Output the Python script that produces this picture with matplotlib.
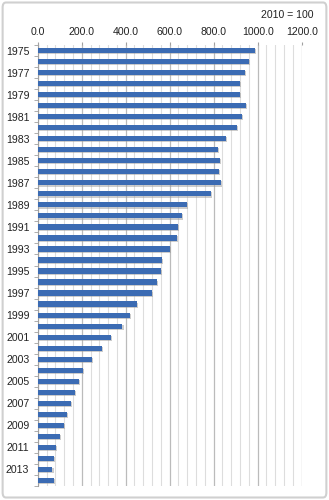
import matplotlib.pyplot as plt
import matplotlib.patheffects as pe
from matplotlib.patches import FancyBboxPatch
import numpy as np

years = list(range(1975, 2015))
values = [988, 962, 942, 920, 920, 947, 929, 905, 856, 821,
          829, 824, 832, 788, 680, 655, 636, 632, 602, 564,
          561, 542, 520, 452, 418, 385, 333, 291, 245, 206,
          186, 168, 152, 133, 120, 100, 82, 73, 67, 73]
note = "2010 = 100"

plt.rcParams['font.family'] = ['Liberation Sans', 'DejaVu Sans']

fig = plt.figure(figsize=(3.29, 5.0), dpi=100)
ax = fig.add_axes([0.1146, 0.028, 0.8024, 0.882])

y = np.arange(len(years))
bars = ax.barh(y, values, height=0.47, color='#3B6BB3', zorder=3)
for b in bars:
    b.set_path_effects([pe.SimplePatchShadow(offset=(0.8, -0.8), shadow_rgbFace='#9A9A9A', alpha=0.5),
                        pe.Normal()])

ax.set_xlim(0, 1200)
ax.set_ylim(len(years) - 0.5, -0.5)

# x axis along the top, major every 200 with minor lines every 40
ax.xaxis.tick_top()
ax.set_xticks(np.arange(0, 1201, 200))
ax.set_xticklabels([f"{v:.1f}" for v in np.arange(0, 1201, 200)])
ax.set_xticks(np.arange(0, 1201, 40), minor=True)
ax.tick_params(axis='x', which='major', length=2, color='#A0A0A0', labelsize=7.6, pad=3.5, labelcolor='#222222')
ax.tick_params(axis='x', which='minor', length=0)
ax.grid(axis='x', which='major', color='#BBBBBB', linewidth=0.9, zorder=0)
ax.grid(axis='x', which='minor', color='#DDDDDD', linewidth=0.8, zorder=0)

# every other year labelled, ticks on category boundaries
ax.set_yticks(y[::2])
ax.set_yticklabels([str(yr) for yr in years[::2]])
ax.set_yticks(np.arange(-0.5, len(years), 1), minor=True)
ax.tick_params(axis='y', which='major', length=0, labelsize=7.6, pad=6, labelcolor='#222222')
ax.tick_params(axis='y', which='minor', length=3, color='#A0A0A0')

for side in ('top', 'right', 'bottom'):
    ax.spines[side].set_visible(False)
ax.spines['left'].set_color('#A0A0A0')
ax.spines['left'].set_linewidth(0.8)

fig.text(0.872, 0.97, note, ha='center', va='center', fontsize=7.6, color='#222222')

# chart frame
frame = FancyBboxPatch((0.008, 0.005), 0.984, 0.99, boxstyle='round,pad=0,rounding_size=0.01',
                       transform=fig.transFigure, facecolor='none', edgecolor='#D0D0D0',
                       linewidth=1.5)
fig.patches.append(frame)

fig.savefig('out.png', dpi=100)
